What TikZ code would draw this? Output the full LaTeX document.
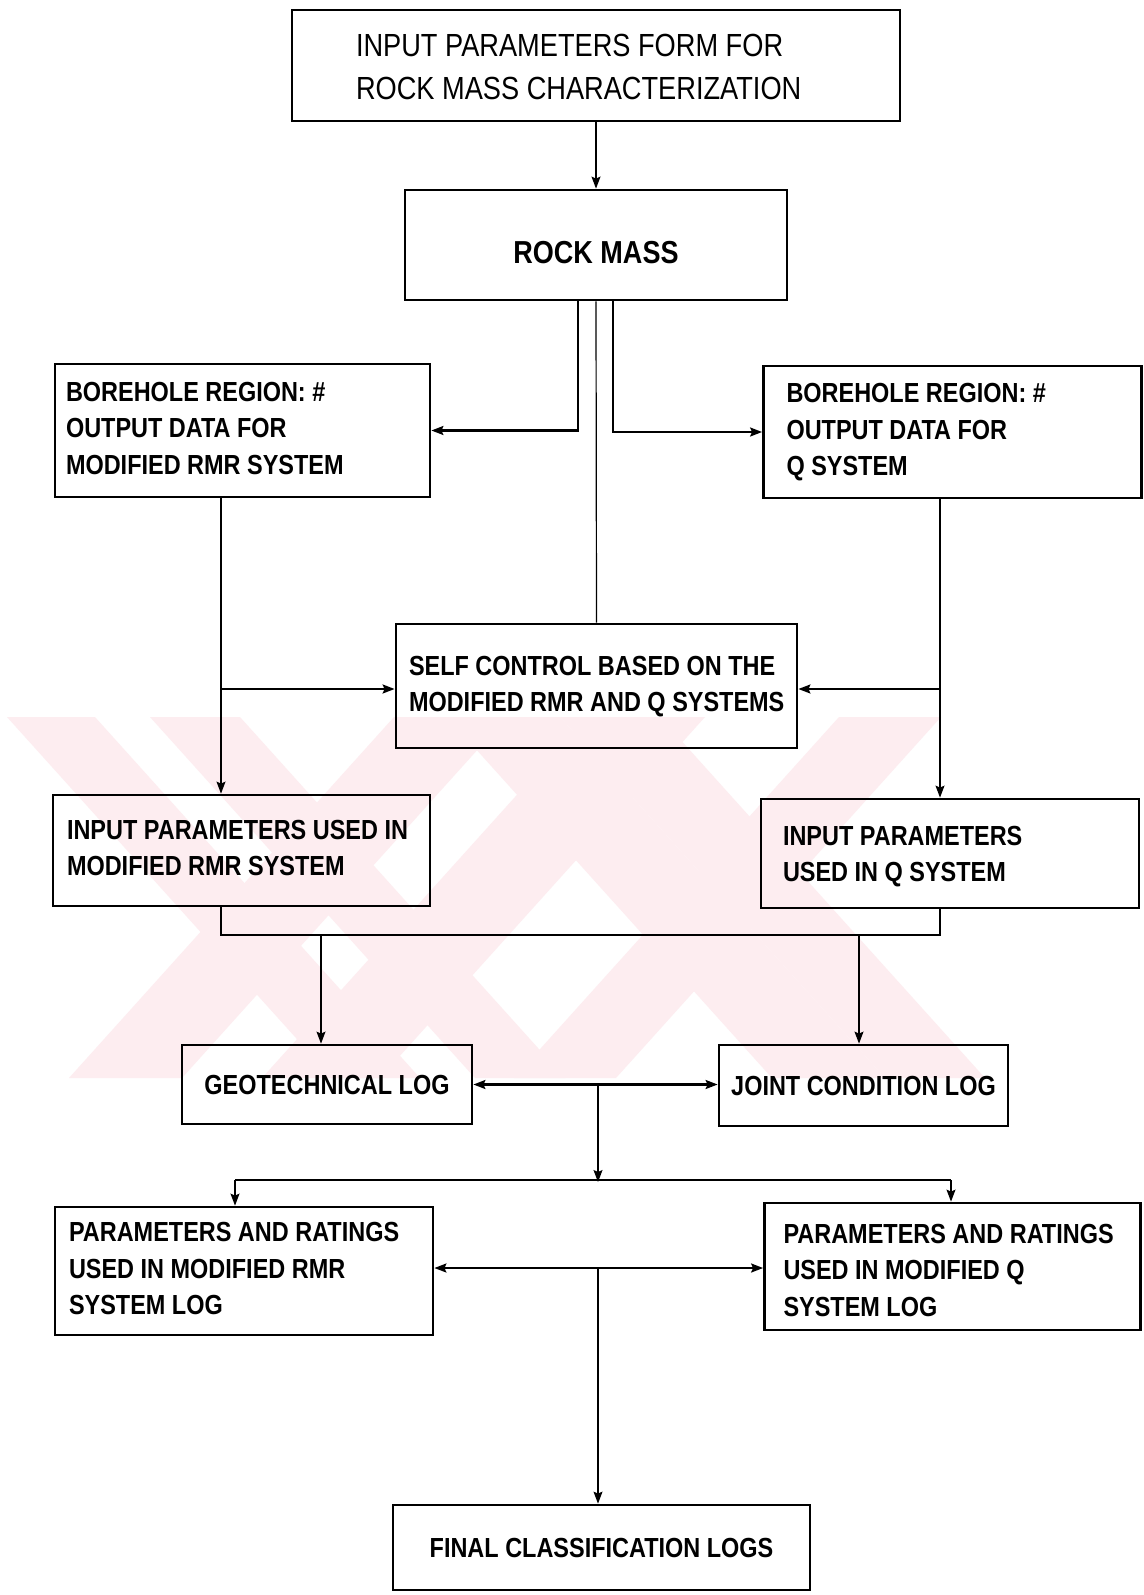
\documentclass[tikz,border=0pt]{standalone}
\usepackage{fontspec}
\setmainfont{Liberation Sans}[FakeStretch=0.85]
\usetikzlibrary{arrows.meta,calc}
\definecolor{wm}{RGB}{253,237,240}
\newcommand{\boxtxt}[3]{\makebox[#1][l]{\hspace*{#2}\begin{tabular}{@{}l@{}}#3\end{tabular}}}
\newcommand{\lowerby}[2]{\raisebox{-#1}[\height][\depth]{#2}}
\tikzset{
  box/.style={draw, line width=1.4pt, inner sep=0pt,
    font=\fontsize{13.8}{18.2}\selectfont\bfseries},
  conn/.style={line width=0.6pt},
  hconn/.style={line width=1.1pt},
  arr/.style={-{Stealth[length=6pt,width=4.5pt,inset=1pt]}},
  darr/.style={{Stealth[length=6pt,width=4.5pt,inset=1pt]}-{Stealth[length=6pt,width=4.5pt,inset=1pt]}},
  wmark/.style={fill=wm, draw=none}
}
\begin{document}
\begin{tikzpicture}[x=0.5pt,y=-0.5pt]
\useasboundingbox (0,0) rectangle (1144,1595);
\fill[white] (0,0) rectangle (1144,1595);
% watermark
\fill[wmark] (7,717) -- (95,717) -- (420,1078) -- (332,1078) -- cycle;
\fill[wmark] (150,717) -- (240,717) -- (565,1078) -- (475,1078) -- cycle;
\fill[wmark] (394,717) -- (507,717) -- (182,1078) -- (69,1078) -- cycle;
\fill[wmark] (587,717) -- (705,717) -- (380,1078) -- (262,1078) -- cycle;
\fill[wmark] (839,717) -- (941,717) -- (616,1078) -- (514,1078) -- cycle;
\fill[wmark] (447,717) -- (560,717) -- (885,1078) -- (772,1078) -- cycle;
\fill[wmark] (560,717) -- (660,717) -- (985,1078) -- (885,1078) -- cycle;

% boxes
\node[box, font=\fontsize{16}{21.5}\selectfont, minimum width=304pt, minimum height=55.5pt] (title) at (596,65.5)
  {\lowerby{2pt}{\boxtxt{304pt}{32pt}{INPUT PARAMETERS FORM FOR\\ROCK MASS CHARACTERIZATION}}};
\node[box, font=\fontsize{15.9}{20}\selectfont\bfseries, minimum width=191pt, minimum height=55pt] (rock) at (596,245)
  {\lowerby{4pt}{ROCK MASS}};
\node[box, minimum width=187.5pt, minimum height=66.5pt] (bhL) at (242.5,430.5)
  {\boxtxt{187.5pt}{5.5pt}{BOREHOLE REGION: \#\\OUTPUT DATA FOR\\MODIFIED RMR SYSTEM}};
\node[box, minimum width=189pt, minimum height=66pt] (bhR) at (952.5,432)
  {\boxtxt{189pt}{11.5pt}{BOREHOLE REGION: \#\\OUTPUT DATA FOR\\Q SYSTEM}};
\node[box, minimum width=200.5pt, minimum height=62pt] (self) at (596.5,686)
  {\boxtxt{200.5pt}{6.5pt}{SELF CONTROL BASED ON THE\\MODIFIED RMR AND Q SYSTEMS}};
\node[box, minimum width=188.5pt, minimum height=55.5pt] (inL) at (241.5,850.5)
  {\boxtxt{188.5pt}{7pt}{INPUT PARAMETERS USED IN\\MODIFIED RMR SYSTEM}};
\node[box, minimum width=189pt, minimum height=54.5pt] (inR) at (950,853.5)
  {\lowerby{1.5pt}{\boxtxt{189pt}{11pt}{INPUT PARAMETERS\\USED IN Q SYSTEM}}};
\node[box, minimum width=145pt, minimum height=39.5pt] (geo) at (327,1084.5)
  {GEOTECHNICAL LOG};
\node[box, minimum width=144.5pt, minimum height=40.5pt] (joint) at (863.5,1085.5)
  {JOINT CONDITION LOG};
\node[box, minimum width=189pt, minimum height=64pt] (parL) at (244,1271)
  {\boxtxt{189pt}{7pt}{PARAMETERS AND RATINGS\\USED IN MODIFIED RMR\\SYSTEM LOG}};
\node[box, minimum width=188pt, minimum height=63.5pt] (parR) at (952.5,1266.5)
  {\lowerby{3pt}{\boxtxt{188pt}{9.5pt}{PARAMETERS AND RATINGS\\USED IN MODIFIED Q\\SYSTEM LOG}}};
\node[box, minimum width=208.5pt, minimum height=42.5pt] (final) at (601.5,1547.5)
  {FINAL CLASSIFICATION LOGS};

% connectors
\draw[conn, arr] (title.south) -- (rock.north);
\coordinate (rl) at ($(rock.south)+(-18,0)$);
\coordinate (rr) at ($(rock.south)+(17,0)$);
\draw[hconn, arr] (rl) |- (bhL.east);
\draw[hconn, arr] (rr) |- (bhR.west);
\draw[conn] (rock.south) -- (self.north);

\coordinate (lb) at (221,497);
\draw[conn, arr] (bhL.south -| lb) -- (inL.north -| lb);
\coordinate (rb) at (940,498);
\draw[conn, arr] (bhR.south -| rb) -- (inR.north -| rb);
\coordinate (lj) at (221,689);
\coordinate (rj) at (940,689);
\draw[hconn, arr] (lj) -- (lj -| self.west);
\draw[hconn, arr] (rj) -- (rj -| self.east);

\coordinate (jl) at (221,935);
\coordinate (jr) at (940,935);
\draw[conn] (inL.south -| jl) -- (jl) -- (jr) -- (inR.south -| jr);
\coordinate (gd) at (321,935);
\coordinate (jd) at (859,935);
\draw[conn, arr] (gd) -- (geo.north -| gd);
\draw[conn, arr] (jd) -- (joint.north -| jd);

\draw[hconn, darr] (geo.east) -- (geo.east -| joint.west);
\coordinate (m1) at (598,1085);
\coordinate (m2) at (598,1182);
\draw[conn, arr] (m1) -- (m2);
\coordinate (pl) at (235,1180);
\coordinate (pr) at (951,1180);
\draw[conn] (pl) -- (pr);
\draw[conn, arr] (pl) -- (parL.north -| pl);
\draw[conn, arr] (pr) -- (parR.north -| pr);

\coordinate (m3) at (598,1268);
\draw[hconn, darr] (parL.east |- m3) -- (parR.west |- m3);
\draw[conn, arr] (m3) -- (final.north -| m3);
\end{tikzpicture}
\end{document}
